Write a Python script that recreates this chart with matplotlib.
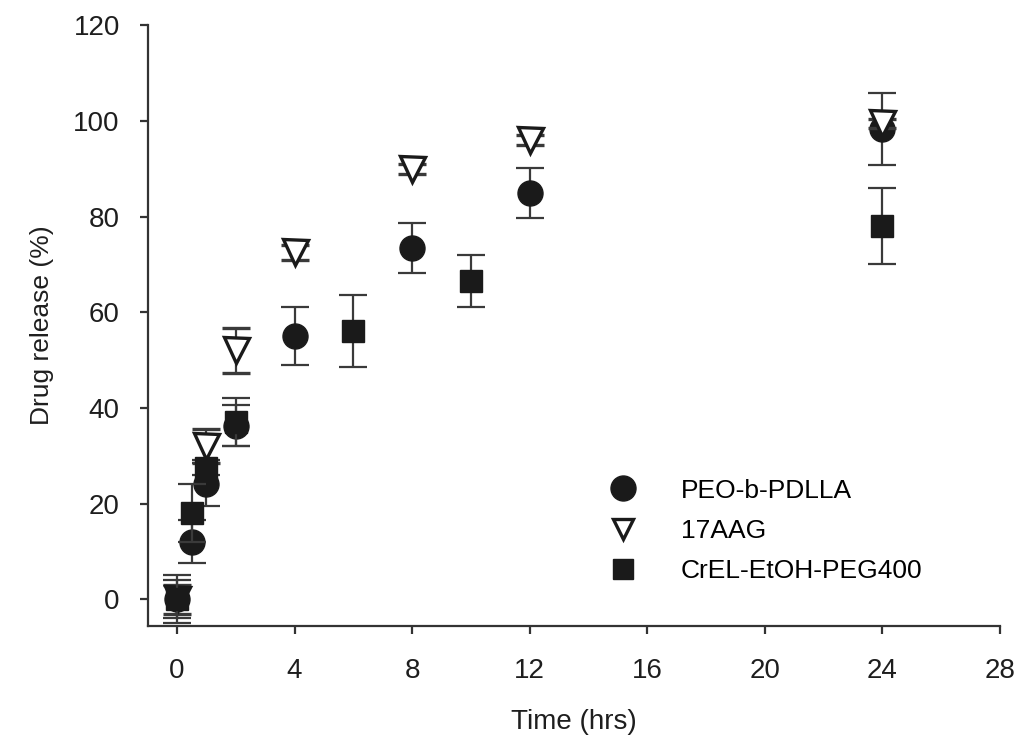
import numpy as np
import matplotlib.pyplot as plt
from matplotlib.lines import Line2D

plt.rcParams['font.family'] = ['Liberation Sans', 'DejaVu Sans']

# PEO-b-PDLLA micelles
t_peo = [0, 0.5, 1, 2, 4, 8, 12, 24]
y_peo = [0, 12, 24, 36.3, 55, 73.5, 85, 98.3]
e_peo = [4, 4.5, 4.5, 4.2, 6, 5.2, 5.2, 7.5]

# free 17AAG
t_aag = [0, 1, 2, 4, 8, 12, 24]
y_aag = [0, 32, 52, 72.5, 90, 96, 99.5]
e_aag = [3, 3.5, 4.8, 1.5, 1, 1, 1]

# CrEL-EtOH-PEG400
t_crel = [0, 0.5, 1, 2, 6, 10, 24]
y_crel = [0, 18, 27.5, 37, 56, 66.5, 78]
e_crel = [5, 6, 1.5, 5, 7.5, 5.5, 8]

labels = ['PEO-b-PDLLA', '17AAG', 'CrEL-EtOH-PEG400']

fig = plt.figure(figsize=(10.18, 7.43), dpi=100)
ax = fig.add_axes([0.145, 0.1575, 0.837, 0.8085])

ecol = '#3a3a3a'
fcol = '#1a1a1a'
tcol = '#1e1e1e'
kw = dict(linestyle='none', ecolor=ecol, elinewidth=1.6, capsize=10, capthick=1.6)

ax.errorbar(t_peo, y_peo, yerr=e_peo, marker='o', ms=18, mfc=fcol, mec=fcol,
            zorder=2, **kw)
ax.errorbar(t_aag, y_aag, yerr=e_aag, marker='v', ms=18, mfc='white', mec=fcol,
            mew=2.4, zorder=3, **kw)
ax.errorbar(t_crel, y_crel, yerr=e_crel, marker='s', ms=16, mfc=fcol, mec=fcol,
            zorder=4, **kw)

ax.set_xlim(-1, 28)
ax.set_ylim(-5.6, 120)
ax.set_xticks(np.arange(0, 29, 4))
ax.set_yticks(np.arange(0, 121, 20))

for s in ['top', 'right']:
    ax.spines[s].set_visible(False)
for s in ['left', 'bottom']:
    ax.spines[s].set_linewidth(1.6)
    ax.spines[s].set_color('#333333')
ax.tick_params(direction='out', length=6, width=1.6, color='#333333',
               labelsize=20, labelcolor=tcol)
ax.tick_params(axis='x', pad=17)
ax.tick_params(axis='y', pad=14)

ax.set_xlabel('Time (hrs)', fontsize=20, color=tcol, labelpad=18)
ax.set_ylabel('Drug release (%)', fontsize=19, color=tcol, labelpad=14)

# legend markers only, no error bars
handles = [
    Line2D([], [], linestyle='none', marker='o', ms=18, mfc=fcol, mec=fcol),
    Line2D([], [], linestyle='none', marker='v', ms=14, mfc='white', mec=fcol, mew=2.4),
    Line2D([], [], linestyle='none', marker='s', ms=15, mfc=fcol, mec=fcol),
]
ax.legend(handles, labels, loc='upper left', bbox_to_anchor=(0.53, 0.263),
          frameon=False, fontsize=19, handlelength=1.0, handletextpad=1.7,
          labelspacing=0.62, borderaxespad=0)

fig.savefig('out.png', dpi=100)
